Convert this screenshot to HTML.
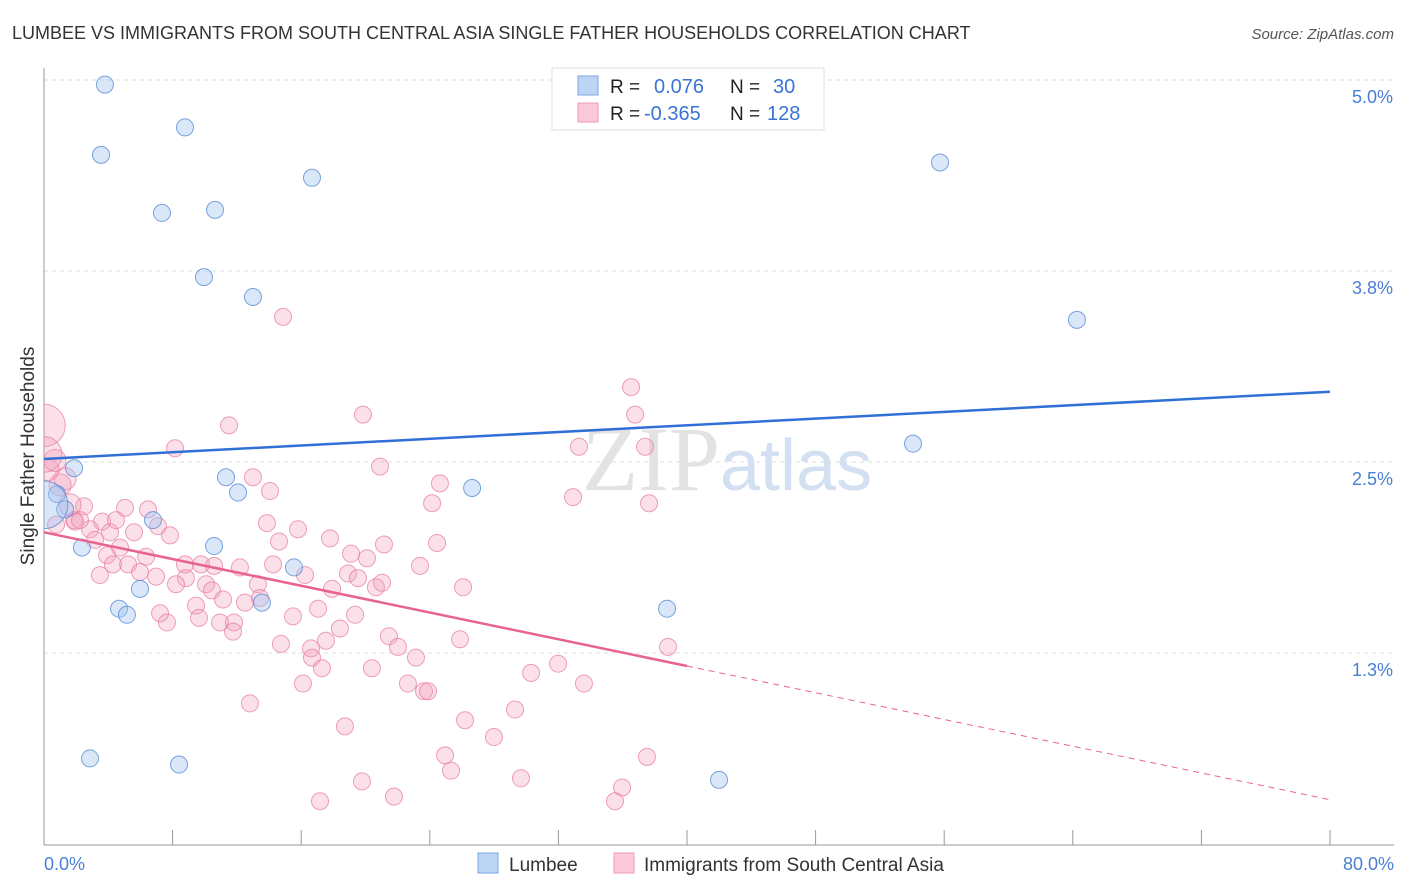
<!DOCTYPE html>
<html><head><meta charset="utf-8"><style>
body{margin:0;background:#fff;font-family:"Liberation Sans",sans-serif;}
svg{display:block}
</style></head><body>
<svg id="chart" width="1406" height="892" xmlns="http://www.w3.org/2000/svg">
<defs><clipPath id="plotclip"><rect x="44" y="60" width="1350" height="785"/></clipPath></defs>
<text x="12" y="39" font-size="18" fill="#333">LUMBEE VS IMMIGRANTS FROM SOUTH CENTRAL ASIA SINGLE FATHER HOUSEHOLDS CORRELATION CHART</text>
<text x="1394" y="39" font-size="15" fill="#555" font-style="italic" text-anchor="end">Source: ZipAtlas.com</text>
<g id="grid"></g>
<text x="720" y="490" font-size="92" font-family="Liberation Serif" fill="#e3e3e3" text-anchor="end">ZIP</text>
<text x="720" y="490" font-size="72" fill="#d3e0f2">atlas</text>
<line x1="44" y1="68" x2="44" y2="845" stroke="#999" stroke-width="1"/>
<line x1="44" y1="845" x2="1394" y2="845" stroke="#999" stroke-width="1"/>
<g id="xticks"></g>
<g id="ylabels"></g>
<text transform="translate(34,456) rotate(-90)" font-size="19" fill="#333" text-anchor="middle">Single Father Households</text>
<text x="44" y="870" font-size="18" fill="#4a7fd4">0.0%</text>
<text x="1394" y="870" font-size="18" fill="#4a7fd4" text-anchor="end">80.0%</text>
<g id="points" clip-path="url(#plotclip)"></g>
<g id="lines"></g>
<g>
<rect x="552" y="68" width="272" height="62" fill="#fff" stroke="#ddd"/>
<rect x="578" y="76" width="20" height="19" fill="#bcd5f5" stroke="#7aa6e0"/>
<rect x="578" y="103" width="20" height="19" fill="#fbc9d8" stroke="#ee9ab6"/>
<text x="610" y="93" font-size="19" fill="#222">R =</text>
<text x="654" y="93" font-size="20" fill="#3a74d4">0.076</text>
<text x="730" y="93" font-size="19" fill="#222">N =</text>
<text x="773" y="93" font-size="20" fill="#3a74d4">30</text>
<text x="610" y="120" font-size="19" fill="#222">R =</text>
<text x="644" y="120" font-size="20" fill="#3a74d4">-0.365</text>
<text x="730" y="120" font-size="19" fill="#222">N =</text>
<text x="767" y="120" font-size="20" fill="#3a74d4">128</text>
</g>
<g>
<rect x="478" y="853" width="20" height="20" fill="#bcd5f5" stroke="#7aa6e0"/>
<text x="509" y="871" font-size="19" fill="#333">Lumbee</text>
<rect x="614" y="853" width="20" height="20" fill="#fbc9d8" stroke="#ee9ab6"/>
<text x="644" y="871" font-size="19" fill="#333">Immigrants from South Central Asia</text>
</g>
</svg>
<script>
const yTicks=[5.0,3.75,2.5,1.25];
const yTickLabels=["5.0%","3.8%","2.5%","1.3%"];
const xTicks=[0,8,16,24,32,40,48,56,64,72,80];
const blueX=[3.79,3.55,8.77,16.67,7.34,10.64,9.95,13.0,55.74,64.26,54.06,1.87,0.81,1.31,6.78,11.32,12.07,26.63,2.36,10.58,15.55,5.97,4.67,5.16,13.56,38.76,2.86,8.40,41.99,0];
const blueY=[4.97,4.51,4.69,4.36,4.13,4.15,3.71,3.58,4.46,3.43,2.62,2.46,2.29,2.19,2.12,2.40,2.30,2.33,1.94,1.95,1.81,1.67,1.54,1.50,1.58,1.54,0.56,0.52,0.42,2.22];
const blueSize=[1,1,1,1,1,1,1,1,1,1,1,1,1,1,1,1,1,1,1,1,1,1,1,1,1,1,1,1,1,2.8];
const pinkX=[14.87,36.52,19.84,36.77,11.51,8.15,33.28,37.39,20.90,13.00,24.63,14.06,24.14,32.91,37.64,5.04,6.47,2.49,1.87,3.61,4.11,7.09,13.87,15.80,17.79,21.15,24.45,19.10,20.09,14.62,5.60,4.73,6.35,7.84,3.48,5.23,5.97,6.97,8.77,9.77,10.58,12.19,14.25,16.24,18.91,19.53,20.65,21.03,23.39,26.07,8.83,8.21,10.08,10.45,13.31,13.44,12.50,9.46,11.14,17.92,17.05,19.35,7.22,7.65,9.64,10.95,11.82,11.76,14.74,15.49,16.61,17.54,18.41,21.46,22.02,23.14,25.88,16.67,17.29,20.40,31.98,30.30,38.82,16.11,22.64,23.64,23.89,33.59,12.81,29.30,26.19,27.99,18.72,24.95,25.32,37.51,19.78,29.67,35.96,35.52,21.77,17.17,1.00,1.31,0.25,0.68,1.62,1.93,2.86,3.17,3.92,4.29,4.48,2.24,0.75,0,0];
const pinkY=[3.45,2.99,2.81,2.81,2.74,2.59,2.60,2.60,2.47,2.40,2.36,2.31,2.23,2.27,2.23,2.20,2.19,2.21,2.12,2.11,2.04,2.08,2.10,2.06,2.00,1.96,1.97,1.90,1.87,1.98,2.04,1.94,1.88,2.02,1.76,1.83,1.78,1.75,1.83,1.83,1.82,1.81,1.83,1.76,1.77,1.74,1.68,1.71,1.82,1.68,1.74,1.70,1.70,1.66,1.70,1.61,1.58,1.56,1.60,1.67,1.54,1.50,1.51,1.45,1.48,1.45,1.45,1.39,1.31,1.49,1.28,1.33,1.41,1.36,1.29,1.22,1.34,1.22,1.15,1.15,1.18,1.12,1.29,1.05,1.05,1.00,1.00,1.05,0.92,0.88,0.81,0.70,0.77,0.58,0.48,0.57,0.41,0.43,0.37,0.28,0.31,0.28,2.35,2.39,2.45,2.51,2.22,2.11,2.06,1.99,1.89,1.83,2.12,2.12,2.09,2.74,2.55];
const pinkSize=pinkX.map((_,i)=>i===pinkX.length-2?2.5:(i===pinkX.length-1?2.1:(i>=102&&i<=106?1.3:1)));
const blueTrend=[2.52,2.96];
const pinkTrend=[2.04,0.29];
const NS="http://www.w3.org/2000/svg";
function xs(v){return 44+v*(1286/80);}
function ys(v){return 80+(5.0-v)*(191/1.25);}
function mk(tag,attrs,parent){const e=document.createElementNS(NS,tag);for(const k in attrs)e.setAttribute(k,attrs[k]);parent.appendChild(e);return e;}
const grid=document.getElementById('grid'),yl=document.getElementById('ylabels'),xt=document.getElementById('xticks');
yTicks.forEach((t,i)=>{
  const l=mk('line',{x1:44,x2:1394,y1:ys(t),y2:ys(t),stroke:'#ddd','stroke-dasharray':'4,4'},grid);
  
  
  const tx=mk('text',{x:1393,y:ys(t)+23,'font-size':18,fill:'#4a7fd4','text-anchor':'end'},yl);
  tx.textContent=yTickLabels[i];
  
  
});
xTicks.forEach(t=>{
  const l=mk('line',{x1:xs(t),x2:xs(t),y1:830,y2:845,stroke:'#999'},xt);
  
  
});
const pts=document.getElementById('points');
pinkX.forEach((x,i)=>{
  const c=mk('circle',{cx:xs(x),cy:ys(pinkY[i]),r:8.5*pinkSize[i],fill:'rgba(244,160,188,0.32)',stroke:'rgba(232,120,158,0.7)','stroke-width':1},pts);
  
  
});
blueX.forEach((x,i)=>{
  const c=mk('circle',{cx:xs(x),cy:ys(blueY[i]),r:8.5*blueSize[i],fill:'rgba(160,195,240,0.4)',stroke:'rgba(80,135,210,0.75)','stroke-width':1},pts);
  
  
});
const lg=document.getElementById('lines');
const bl=mk('line',{x1:xs(0),y1:ys(blueTrend[0]),x2:xs(80),y2:ys(blueTrend[1]),stroke:'#2f6fd6','stroke-width':2.5},lg);


const pm=pinkTrend[0]+(pinkTrend[1]-pinkTrend[0])*0.5;
const pl=mk('line',{x1:xs(0),y1:ys(pinkTrend[0]),x2:xs(40),y2:ys(pm),stroke:'#e8638f','stroke-width':2.5},lg);


const pd=mk('line',{x1:xs(40),y1:ys(pm),x2:xs(80),y2:ys(pinkTrend[1]),stroke:'#e8638f','stroke-width':1,'stroke-dasharray':'6,5'},lg);


</script>
</body></html>
